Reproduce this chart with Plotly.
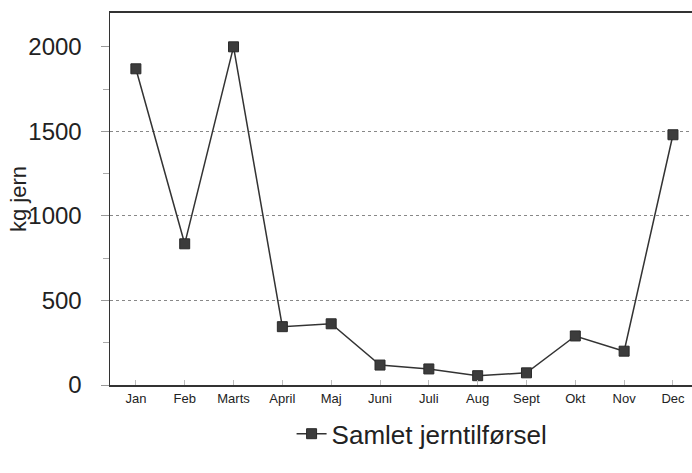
import plotly.graph_objects as go

months = ["Jan", "Feb", "Marts", "April", "Maj", "Juni", "Juli", "Aug", "Sept", "Okt", "Nov", "Dec"]
values = [1870, 835, 2000, 345, 362, 118, 95, 55, 72, 290, 200, 1480]
y_ticks = [0, 500, 1000, 1500, 2000]
grid_vals = [500, 1000, 1500]

FONT = "Liberation Sans, Arial, sans-serif"

fig = go.Figure()
fig.add_trace(go.Scatter(
    x=list(range(len(months))), y=values, mode="lines+markers",
    name="Samlet jerntilførsel",
    line=dict(color="#333333", width=1.5),
    marker=dict(symbol="square", size=10, color="#3c3c3c", line=dict(color="#2a2a2a", width=1)),
))
fig.add_trace(go.Scatter(x=[0], y=[0], yaxis="y2", mode="markers",
                         marker=dict(opacity=0), showlegend=False, hoverinfo="skip"))

fig.update_layout(
    width=692, height=473,
    margin=dict(l=110, r=0, t=13, b=88),
    paper_bgcolor="white", plot_bgcolor="white",
    font=dict(family=FONT, color="#222222"),
    showlegend=True,
    legend=dict(orientation="h", x=0.312, xanchor="left", y=-0.068, yanchor="top",
                font=dict(size=26, family=FONT, color="#222222"), itemwidth=30),
    xaxis=dict(
        range=[-0.53, 11.39], tickvals=list(range(len(months))), ticktext=months,
        showgrid=False, zeroline=False, showline=True, linecolor="#333333", linewidth=2,
        mirror=True, ticks="inside", ticklen=5, tickcolor="#bbbbbb", automargin=False,
        tickfont=dict(size=13, family=FONT, color="#222222"),
    ),
    yaxis=dict(
        range=[0, 2200], tickvals=y_ticks, showgrid=False, zeroline=False,
        showline=True, linecolor="#333333", linewidth=1.5, automargin=False,
        ticks="outside", ticklen=8, tickcolor="#999999", ticklabelstandoff=14,
        tickfont=dict(size=24, family=FONT, color="#222222"),
        minor=dict(dtick=250, ticks="outside", ticklen=6, tickcolor="#aaaaaa"),
    ),
    yaxis2=dict(
        range=[0, 2200], overlaying="y", tickvals=grid_vals, showticklabels=False,
        showgrid=True, gridcolor="#888888", griddash="dot", gridwidth=1,
        zeroline=False, showline=False, automargin=False,
    ),
    annotations=[dict(text="kg jern", textangle=-90, x=-0.158, xref="paper", xanchor="center",
                      y=0.5, yref="paper", showarrow=False,
                      font=dict(size=22, family=FONT, color="#222222"))],
)

fig.write_html("out.html", config={"displayModeBar": False, "staticPlot": True})
with open("out.html", encoding="utf-8") as f:
    html = f.read()
html = html.replace("<body>", '<body style="margin:0;padding:0;overflow:hidden">', 1)
with open("out.html", "w", encoding="utf-8") as f:
    f.write(html)
